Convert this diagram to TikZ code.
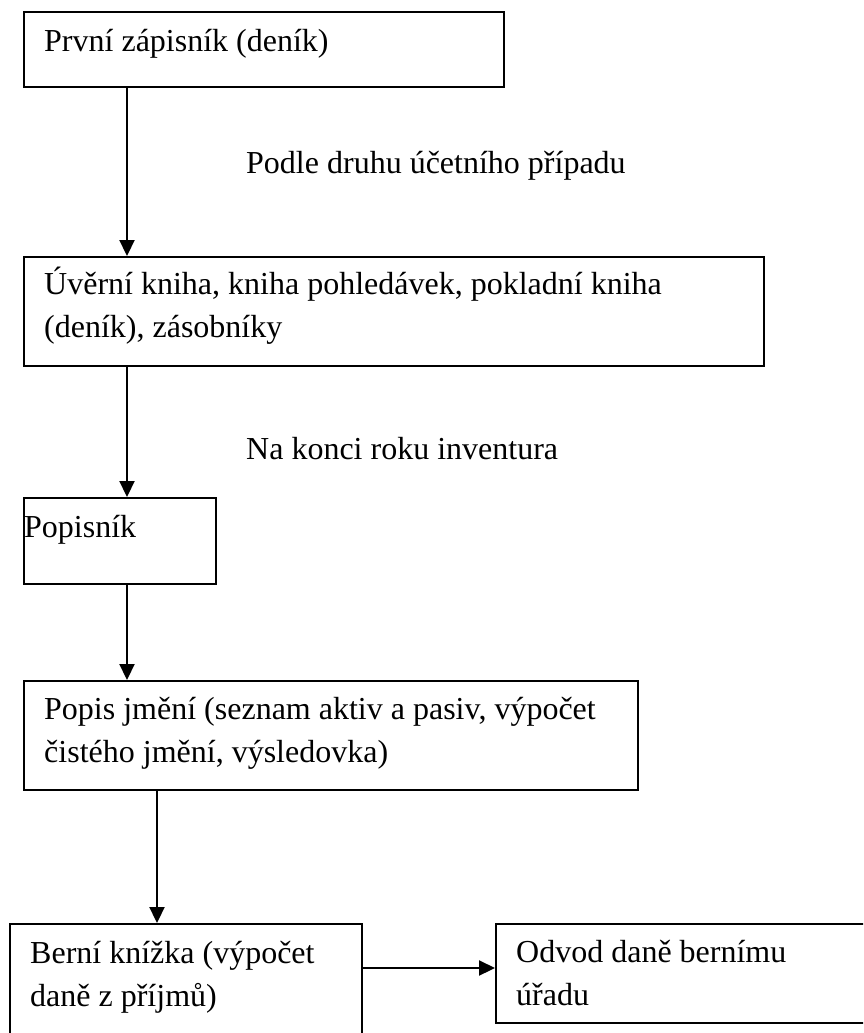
\documentclass[tikz,border=0pt]{standalone}
\usepackage{fontspec}
\setmainfont{Liberation Serif}
\usetikzlibrary{arrows.meta}
\begin{document}
\begin{tikzpicture}[x=1pt,y=1pt,
  box/.style={draw, line width=2.2pt, anchor=north west, inner sep=0pt},
  txt/.style={anchor=base west, inner sep=0pt, align=left, font=\fontsize{32}{43}\selectfont},
  arr/.style={-{Triangle[length=16pt,width=15pt]}, line width=2.2pt}]
\useasboundingbox (0,0) rectangle (863,-1033);
\clip (0,0) rectangle (863,-1033);
\fill[white] (0,0) rectangle (863,-1033);
% boxes
\node[box, minimum width=480pt, minimum height=75pt] (b1) at (23,-11) {};
\node[box, minimum width=740pt, minimum height=109pt] (b2) at (23,-256) {};
\node[box, minimum width=192pt, minimum height=86pt] (b3) at (23,-497) {};
\node[box, minimum width=614pt, minimum height=109pt] (b4) at (23,-680) {};
\node[box, minimum width=352pt, minimum height=140pt] (b5) at (9,-923) {};
\node[box, minimum width=390pt, minimum height=99pt] (b6) at (495,-923) {};
% texts (multi-line nodes are placed at the baseline of their last line)
\node[txt] (t1) at (44,-52) {První zápisník (deník)};
\node[txt] (t2) at (44,-337) {Úvěrní kniha, kniha pohledávek, pokladní kniha\\(deník), zásobníky};
\node[txt] (t3) at (24,-537) {Popisník};
\node[txt] (t4) at (44,-762) {Popis jmění (seznam aktiv a pasiv, výpočet\\čistého jmění, výsledovka)};
\node[txt] (t5) at (30,-1006) {Berní knížka (výpočet\\daně z příjmů)};
\node[txt] (t6) at (516,-1005) {Odvod daně bernímu\\úřadu};
\node[txt] (l1) at (246,-173) {Podle druhu účetního případu};
\node[txt] (l2) at (246,-459) {Na konci roku inventura};
% connectors
\coordinate (c1) at (127,0);
\coordinate (c4) at (157,0);
\coordinate (c5) at (0,-968);
\draw[arr] (b1.south -| c1) -- (b2.north -| c1);
\draw[arr] (b2.south -| c1) -- (b3.north -| c1);
\draw[arr] (b3.south -| c1) -- (b4.north -| c1);
\draw[arr] (b4.south -| c4) -- (b5.north -| c4);
\draw[arr] (b5.east |- c5) -- (b6.west |- c5);
\end{tikzpicture}
\end{document}
